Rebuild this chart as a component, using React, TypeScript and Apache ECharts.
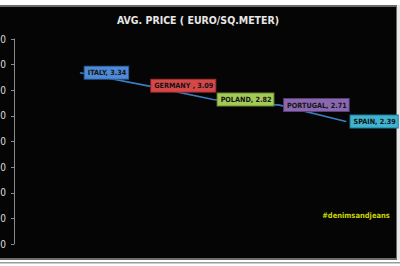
import React, { useEffect, useRef } from "react";
import * as echarts from "echarts";

const categories = ["ITALY", "GERMANY ", "POLAND", "PORTUGAL", "SPAIN"];
const prices = [3.34, 3.09, 2.82, 2.71, 2.39];
const labelColors = ["#4f8ad6", "#d64848", "#a3c957", "#8a68b0", "#3fb3cf"];
const labelBorders = ["#2a5a96", "#8e2a2a", "#6a8a30", "#5a3f7c", "#1f7a92"];
const yMin = 0;
const yMax = 4;
const yStep = 0.5;
const titleText = "AVG. PRICE ( EURO/SQ.METER)";
const watermark = "#denimsandjeans";

const FONT = "'Liberation Sans Narrow', 'DejaVu Sans Condensed', 'Liberation Sans', sans-serif";

export default function App() {
  const ref = useRef<HTMLDivElement>(null);
  useEffect(() => {
    document.body.style.margin = "0";
    const chart = echarts.init(ref.current!, null, { renderer: "svg" });
    chart.setOption({
      animation: false,
      backgroundColor: "#ffffff",
      graphic: [
        { type: "rect", shape: { x: -2, y: 5, width: 401, height: 255 }, style: { fill: "#6b6b6b" }, z: -10 },
        { type: "rect", shape: { x: -2, y: 7, width: 398, height: 251 }, style: { fill: "#050505" }, z: -9 },
        { type: "rect", shape: { x: 397, y: 5, width: 3, height: 255 }, style: { fill: "#e8e8e8" }, z: -8 },
        { type: "rect", shape: { x: -2, y: 262, width: 402, height: 1.5 }, style: { fill: "#9a9a9a" }, z: -8 },
        {
          type: "text",
          x: 198,
          y: 20,
          style: {
            text: titleText,
            fill: "#e6e6e6",
            font: `bold 10.5px ${FONT}`,
            align: "center",
            verticalAlign: "middle",
          },
        },
        {
          type: "text",
          x: 356,
          y: 215,
          style: {
            text: watermark,
            fill: "#c9d500",
            font: `bold 7.5px ${FONT}`,
            align: "center",
            verticalAlign: "middle",
          },
        },
      ],
      grid: { left: 47, right: 20.75, top: 39, bottom: 22, containLabel: false, outerBoundsMode: "none" },
      xAxis: {
        type: "category",
        data: categories,
        boundaryGap: true,
        axisLine: { show: false },
        axisTick: { show: false },
        axisLabel: { show: false },
      },
      yAxis: {
        type: "value",
        min: yMin,
        max: yMax,
        interval: yStep,
        offset: 33,
        axisLine: { show: true, lineStyle: { color: "#8a8a8a", width: 1 } },
        axisTick: { show: true, length: 3, lineStyle: { color: "#8a8a8a" } },
        splitLine: { show: false },
        axisLabel: {
          color: "#dddddd",
          fontSize: 10,
          margin: 8,
          fontFamily: FONT,
          formatter: (v: number) => v.toFixed(2),
        },
      },
      series: [
        {
          type: "line",
          data: prices.map((v, i) => ({
            value: v,
            label: {
              backgroundColor: labelColors[i],
              borderColor: labelBorders[i],
            },
          })),
          showSymbol: true,
          symbol: "circle",
          symbolSize: 1,
          itemStyle: { color: "#3d7cc0" },
          lineStyle: { color: "#3d7cc0", width: 1.6 },
          label: {
            show: true,
            position: "right",
            distance: 4,
            color: "#141414",
            fontSize: 7.2,
            fontWeight: "bold",
            fontFamily: FONT,
            borderWidth: 1,
            padding: [3, 2, 2, 3],
            formatter: (p: any) => `${categories[p.dataIndex]}, ${Number(p.value).toFixed(2)}`,
          },
        },
      ],
    });
    return () => chart.dispose();
  }, []);
  return <div ref={ref} style={{ width: 400, height: 266 }} />;
}
